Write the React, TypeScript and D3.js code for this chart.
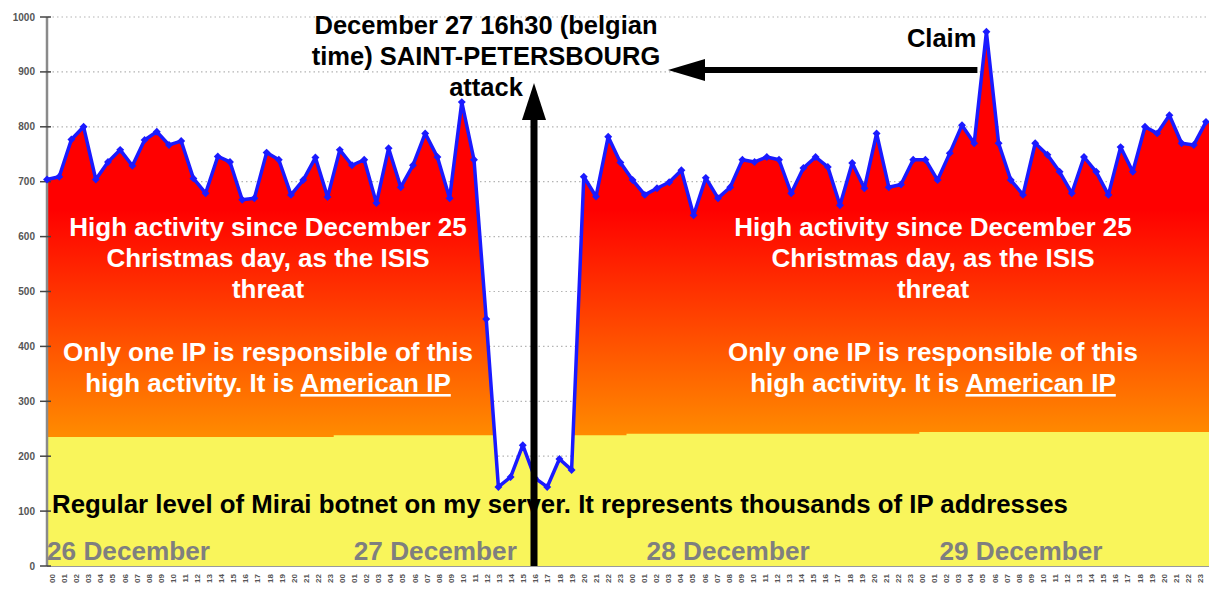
import React from "react";
import * as d3 from "d3";

const days = ["26 December", "27 December", "28 December", "29 December"];
const hours = d3.range(24).map((h) => String(h).padStart(2, "0"));

const day26 = [704, 709, 777, 800, 704, 736, 758, 729, 776, 791, 767, 774, 706, 679, 746, 736, 667, 670, 753, 740, 676, 703, 744, 672];
const day27 = [758, 730, 740, 661, 761, 690, 730, 788, 745, 670, 845, 740, 450, 144, 162, 220, 160, 144, 195, 175, 709, 673, 782, 735];
const day28 = [703, 676, 688, 699, 721, 639, 707, 670, 690, 740, 736, 745, 740, 679, 725, 745, 727, 657, 734, 688, 788, 690, 695, 740];
const day29 = [740, 703, 752, 803, 770, 973, 770, 703, 676, 770, 749, 718, 679, 745, 718, 676, 763, 718, 800, 788, 821, 770, 767, 809];
const regularLevel = [235, 238, 241, 244];

const yTicks = d3.range(0, 1001, 100);

const titleLines = ["December 27 16h30 (belgian", "time) SAINT-PETERSBOURG", "attack"];
const claimText = "Claim";
const threatLines = ["High activity since December 25", "Christmas day, as the ISIS", "threat"];
const ipLine1 = "Only one IP is responsible of this";
const ipLine2 = "high activity. It is ";
const ipUnderlined = "American IP";
const regularText = "Regular level of Mirai botnet on my server. It represents thousands of IP addresses";

const W = 1209;
const H = 589;

export default function App() {
  const values = [...day26, ...day27, ...day28, ...day29];
  const n = values.length;
  const data = values.map((v, i) => ({
    i,
    v,
    reg: regularLevel[Math.floor(i / 24)],
    label: hours[i % 24],
  }));

  const x = d3.scaleLinear().domain([0, n - 1]).range([47, 1206]);
  const xl = d3.scaleLinear().domain([0, n - 1]).range([52, 1200]);
  const y = d3.scaleLinear().domain([0, 1000]).range([566, 17]);

  const areaPts = [...data, { ...data[n - 1], i: n - 1 + 3 / 12.2 }];
  const area = d3
    .area<any>()
    .x((d) => x(d.i))
    .y0(y(0))
    .y1((d) => y(d.v));
  const regPts = [...data, { ...data[n - 1], i: n }];
  const yellowArea = d3
    .area<any>()
    .x((d) => x(d.i))
    .y0(y(0))
    .y1((d) => y(d.reg))
    .curve(d3.curveStep);
  const line = d3
    .line<any>()
    .x((d) => x(d.i))
    .y((d) => y(d.v));

  const font = "'Liberation Sans', Arial, sans-serif";
  const attackX = x(24 + 16) - 1;
  const claimX = x(77);
  const leftCx = 268;
  const rightCx = 933;
  const threatY = [236, 267, 298];
  const ipY = [361, 392];

  return (
    <svg
      width={W}
      height={H}
      style={{ position: "absolute", left: 0, top: 0, background: "#fff" }}
      fontFamily={font}
    >
      <defs>
        <linearGradient id="redOrange" gradientUnits="userSpaceOnUse" x1="0" x2="0" y1={y(650)} y2={y(240)}>
          <stop offset="0" stopColor="#ff0000" />
          <stop offset="1" stopColor="#ff8a00" />
        </linearGradient>
        <clipPath id="underLine">
          <path d={area(areaPts) || ""} />
        </clipPath>
      </defs>

      {/* grid */}
      {yTicks.slice(1).map((t) => (
        <line key={"g" + t} x1={48} x2={W} y1={y(t)} y2={y(t)} stroke="#b4b4b4" strokeWidth={1.2} strokeDasharray="1.5 3" />
      ))}

      {/* areas */}
      <path d={area(areaPts) || ""} fill="url(#redOrange)" />
      <path d={yellowArea(regPts) || ""} fill="#f9f55b" clipPath="url(#underLine)" />

      {/* axes */}
      <line x1={47} x2={47} y1={y(1000)} y2={y(0)} stroke="#8a8a8a" strokeWidth={2.5} />
      <line x1={47} x2={W} y1={y(0) + 0.5} y2={y(0) + 0.5} stroke="#9a9a9a" strokeWidth={1} />
      {yTicks.map((t) => (
        <g key={"t" + t}>
          <line x1={40} x2={51} y1={y(t)} y2={y(t)} stroke="#444" strokeWidth={1.5} />
          <text x={35} y={y(t) + 3.5} textAnchor="end" fontSize={10} fontWeight="bold" fill="#555">
            {t}
          </text>
        </g>
      ))}
      {data.map((d) => (
        <text
          key={"h" + d.i}
          transform={`translate(${xl(d.i) + 3},574) rotate(-90)`}
          textAnchor="end"
          fontSize={8}
          fontWeight="bold"
          fill="#555"
        >
          {d.label}
        </text>
      ))}

      {/* line */}
      <path d={line(data) || ""} fill="none" stroke="#1a1aff" strokeWidth={3.5} strokeLinejoin="round" />
      {data.map((d) => (
        <rect
          key={"m" + d.i}
          x={-2.8}
          y={-2.8}
          width={5.6}
          height={5.6}
          fill="#1a1aff"
          transform={`translate(${x(d.i)},${y(d.v)}) rotate(45)`}
        />
      ))}

      {/* day labels */}
      {days.map((dl, k) => (
        <text key={dl} x={x(k * 24) + (k === 0 ? 0 : 14)} y={560} fontSize={26.2} fontWeight="bold" fill="#7f7f7f">
          {dl}
        </text>
      ))}

      {/* regular level text */}
      <text x={52} y={513} fontSize={25.8} fontWeight="bold" fill="#000">
        {regularText}
      </text>

      {/* white annotations */}
      {[leftCx, rightCx].map((cx) => (
        <g key={"w" + cx} fill="#fff" fontSize={26} fontWeight="bold" textAnchor="middle">
          {threatLines.map((t, k) => (
            <text key={t} x={cx} y={threatY[k]}>
              {t}
            </text>
          ))}
          <text x={cx} y={ipY[0]}>{ipLine1}</text>
          <text x={cx} y={ipY[1]}>
            {ipLine2}
            <tspan textDecoration="underline">{ipUnderlined}</tspan>
          </text>
        </g>
      ))}

      {/* arrows */}
      <rect x={attackX - 3.5} y={115} width={7} height={y(0) - 115} fill="#000" />
      <path d={`M${attackX - 12},${120} L${attackX + 12},${120} L${attackX},${83} Z`} fill="#000" />
      <rect x={700} y={67} width={claimX - 9 - 700} height={6} fill="#000" />
      <path d={`M705,59 L705,81 L668,70 Z`} fill="#000" />

      {/* title */}
      <g fontSize={25.5} fontWeight="bold" fill="#000" textAnchor="middle">
        {titleLines.map((t, k) => (
          <text key={t} x={486} y={34 + k * 31}>
            {t}
          </text>
        ))}
      </g>
      <text x={claimX - 10} y={47} textAnchor="end" fontSize={25.5} fontWeight="bold" fill="#000">
        {claimText}
      </text>
    </svg>
  );
}
